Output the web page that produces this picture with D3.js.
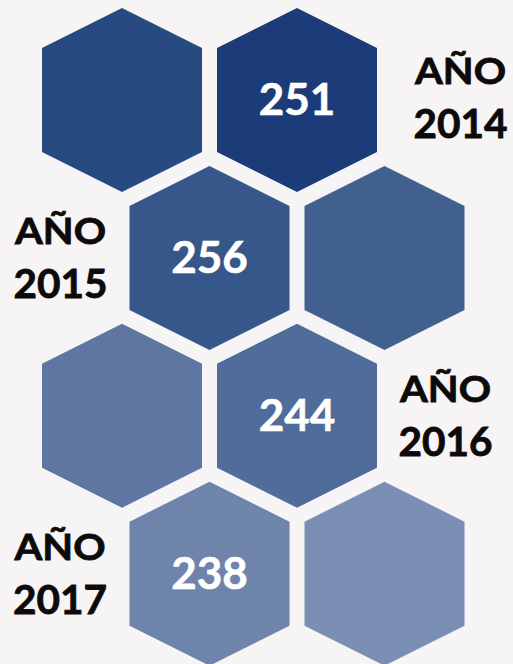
<!DOCTYPE html>
<html>
<head>
<meta charset="utf-8">
<script src="https://cdn.jsdelivr.net/npm/d3@7"></script>
<style>
  html, body { margin: 0; padding: 0; background: #f6f4f5; }
  svg { display: block; }
</style>
</head>
<body>
<div id="chart"></div>
<script>
// ---- data ----
const years = ["2014", "2015", "2016", "2017"];
const values = [251, 256, 244, 238];
const yearWord = "AÑO";
const valueColors = ["#1b3c78", "#375689", "#506c9a", "#6f84ab"];
const companionColors = ["#264a80", "#43618f", "#5f76a2", "#7b8fb4"];

// ---- layout ----
const W = 513, H = 664;
const valueSlot = [2, 1, 2, 1];          // half-step slot of the value hexagon
const companionSlot = [0, 3, 0, 3];      // half-step slot of the plain hexagon
const labelCenter = [460.5, 60.5, 445.5, 60];
const labelNudge = [-2, 0, 0, 0];

const x = d3.scaleLinear().domain([0, 3]).range([122, 384.5]);
const y = d3.scaleLinear().domain([0, 3]).range([100, 573.7]);

const halfW = 80, tip = 92, shoulder = 52;
const hexPts = [[0, -tip], [halfW, -shoulder], [halfW, shoulder], [0, tip], [-halfW, shoulder], [-halfW, -shoulder]];
const hexPath = d3.line()(hexPts) + "Z";

const svg = d3.select("#chart").append("svg")
  .attr("width", W).attr("height", H)
  .style("background", "#f6f4f5");

svg.append("rect").attr("width", W).attr("height", H).attr("fill", "#f6f4f5");

const hexes = [];
years.forEach((yr, i) => {
  hexes.push({ row: i, slot: companionSlot[i], color: companionColors[i], value: null });
  hexes.push({ row: i, slot: valueSlot[i], color: valueColors[i], value: values[i] });
});

const g = svg.append("g");
const cell = g.selectAll("g.hex").data(hexes).join("g")
  .attr("class", "hex")
  .attr("transform", d => `translate(${x(d.slot)},${y(d.row)})`);

cell.append("path").attr("d", hexPath).attr("fill", d => d.color);

cell.filter(d => d.value !== null).append("text")
  .attr("x", 0).attr("y", 15)
  .attr("text-anchor", "middle")
  .attr("font-family", "Lato, 'Open Sans', sans-serif")
  .attr("font-weight", 700)
  .attr("font-size", 44)
  .attr("fill", "#ffffff")
  .attr("stroke", "#ffffff")
  .attr("stroke-width", 0.6)
  .text(d => d.value);

// year labels
const lab = svg.selectAll("g.lab").data(years).join("g")
  .attr("class", "lab")
  .attr("transform", (d, i) => `translate(${labelCenter[i]},${y(i) + labelNudge[i]})`);

lab.append("text")
  .attr("x", 0).attr("y", -14)
  .attr("text-anchor", "middle")
  .attr("font-family", "Lato, 'Open Sans', sans-serif")
  .attr("font-weight", 700)
  .attr("font-size", 37)
  .attr("fill", "#0d0a0b")
  .attr("stroke", "#0d0a0b")
  .attr("stroke-width", 0.8)
  .attr("textLength", 91)
  .attr("lengthAdjust", "spacingAndGlyphs")
  .text(yearWord);

lab.append("text")
  .attr("x", 0).attr("y", 40)
  .attr("text-anchor", "middle")
  .attr("font-family", "Lato, 'Open Sans', sans-serif")
  .attr("font-weight", 700)
  .attr("font-size", 41)
  .attr("fill", "#0d0a0b")
  .attr("stroke", "#0d0a0b")
  .attr("stroke-width", 0.8)
  .attr("textLength", 94)
  .attr("lengthAdjust", "spacingAndGlyphs")
  .text(d => d);
</script>
</body>
</html>
